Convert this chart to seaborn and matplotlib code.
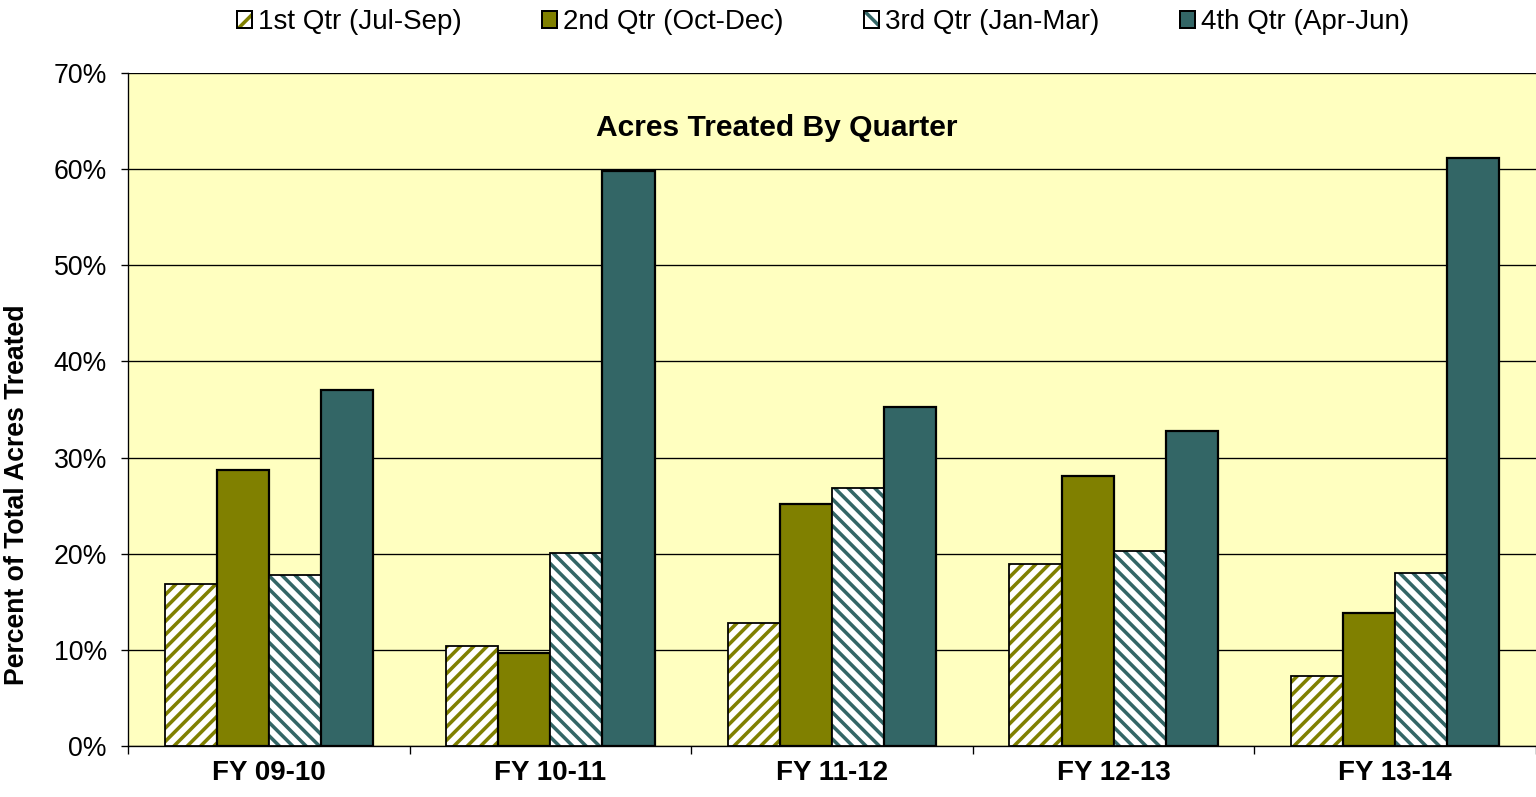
import numpy as np
import pandas as pd
import matplotlib
matplotlib.use('Agg')
import matplotlib.pyplot as plt
import seaborn as sns
from matplotlib.patches import Rectangle, Patch
from matplotlib.legend_handler import HandlerTuple
from matplotlib.ticker import FuncFormatter

years = ['FY 09-10', 'FY 10-11', 'FY 11-12', 'FY 12-13', 'FY 13-14']
quarters = ['1st Qtr (Jul-Sep)', '2nd Qtr (Oct-Dec)', '3rd Qtr (Jan-Mar)', '4th Qtr (Apr-Jun)']
q1 = [16.8, 10.4, 12.8, 18.9, 7.3]
q2 = [28.7, 9.7, 25.2, 28.1, 13.8]
q3 = [17.8, 20.1, 26.8, 20.3, 18.0]
q4 = [37.0, 59.8, 35.3, 32.8, 61.2]

olive = '#808000'
teal = '#336666'
bg = '#FFFFC0'

plt.rcParams['font.family'] = ['Liberation Sans', 'DejaVu Sans']
plt.rcParams['hatch.linewidth'] = 3.2

df = pd.DataFrame({
    'year': years * 4,
    'quarter': np.repeat(quarters, len(years)),
    'pct': q1 + q2 + q3 + q4,
})

fig, ax = plt.subplots(figsize=(19.2, 9.9625), dpi=80)
fig.subplots_adjust(left=128 / 1536, right=1.0, bottom=1 - 746 / 797, top=1 - 73 / 797)
ax.set_facecolor(bg)

sns.barplot(data=df, x='year', y='pct', hue='quarter', palette=[olive, olive, teal, teal],
            width=0.74, saturation=1, legend=False, ax=ax, zorder=3)

# (face, hatch colour / edge, hatch)
styles = [('white', olive, '//'), (olive, 'black', ''), ('white', teal, '\\\\'), (teal, 'black', '')]
for cont, (fc, ec, h) in zip(ax.containers, styles):
    for bar in cont:
        bar.set_facecolor(fc)
        bar.set_edgecolor(ec)
        if h:
            bar.set_hatch(h)
            bar.set_linewidth(0)
            ax.add_patch(Rectangle(bar.get_xy(), bar.get_width(), bar.get_height(),
                                   fill=False, edgecolor='black', lw=1.6, zorder=4))
        else:
            bar.set_linewidth(2.0)

ax.set_ylim(0, 70)
ax.set_yticks(range(0, 71, 10))
ax.yaxis.set_major_formatter(FuncFormatter(lambda v, p: f'{v:.0f}%'))
ax.grid(axis='y', color='black', lw=1.2)
ax.set_axisbelow(True)
ax.set_xlim(-0.5, 4.5)

ax.set_xlabel('')
ax.set_ylabel('Percent of Total Acres Treated', fontsize=24, fontweight='bold')
ax.yaxis.set_label_coords(-0.0696, 0.374)

ax.tick_params(axis='y', labelsize=24, length=6, width=1.2, pad=13)
ax.tick_params(axis='x', which='major', labelsize=25, length=0, pad=13)
for lbl in ax.get_xticklabels():
    lbl.set_fontweight('bold')
ax.set_xticks(np.arange(-0.5, 5, 1), minor=True)
ax.tick_params(axis='x', which='minor', length=7, width=1.2)

for s in ['top', 'right']:
    ax.spines[s].set_visible(False)
for s in ['left', 'bottom']:
    ax.spines[s].set_color('black')
    ax.spines[s].set_linewidth(1.2)

fig.text(777 / 1536, 1 - 128 / 797, 'Acres Treated By Quarter', fontsize=27,
         fontweight='bold', ha='center', va='center')

handles = []
for fc, ec, h in styles:
    if h:
        handles.append((Patch(facecolor=fc, edgecolor=ec, hatch=h[0], lw=0),
                        Patch(fill=False, edgecolor='black', lw=1.8)))
    else:
        handles.append(Patch(facecolor=fc, edgecolor='black', lw=1.8))
fig.legend(handles, quarters, handler_map={tuple: HandlerTuple(ndivide=1, pad=0)},
           loc='center', bbox_to_anchor=(823 / 1536, 1 - 22 / 797), ncol=4,
           frameon=False, fontsize=25, handlelength=0.55, handleheight=0.55,
           handletextpad=0.2, columnspacing=2.9)

fig.savefig('out.png', dpi=80)
